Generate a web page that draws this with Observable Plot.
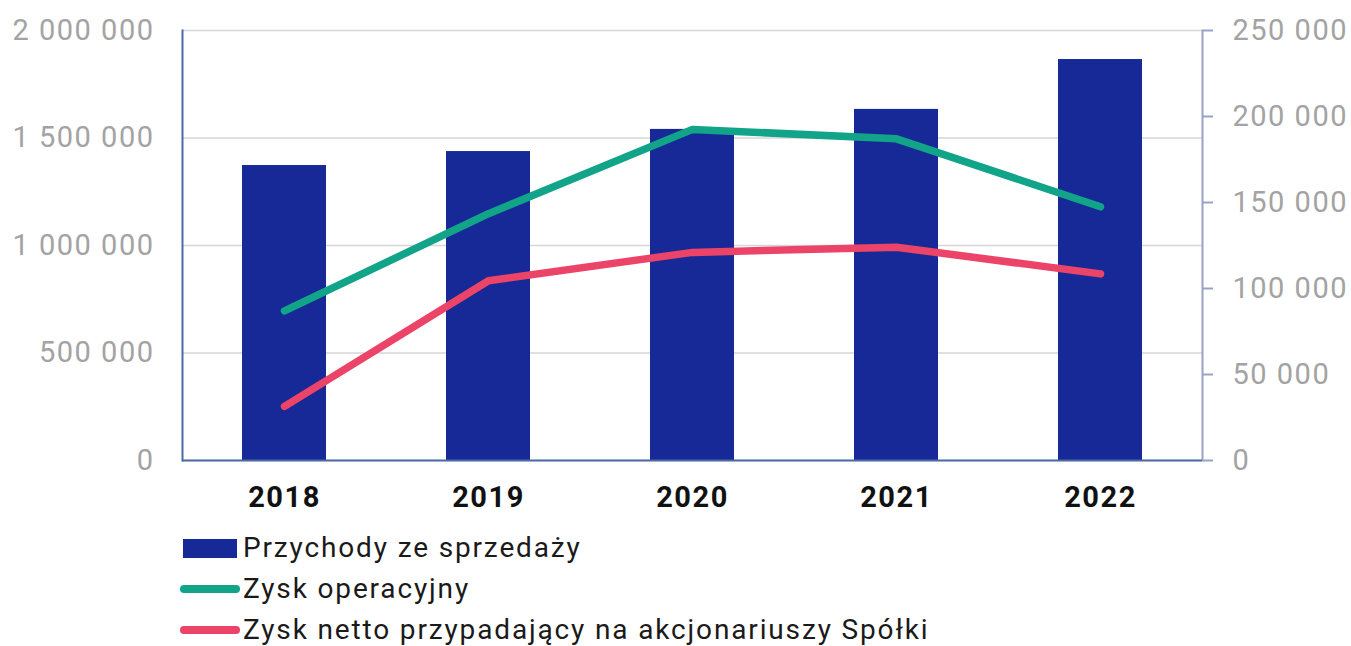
<!DOCTYPE html>
<html>
<head>
<meta charset="utf-8">
<script src="https://cdn.jsdelivr.net/npm/d3@7"></script>
<script src="https://cdn.jsdelivr.net/npm/@observablehq/plot@0.6"></script>
<style>
  html, body { margin: 0; padding: 0; background: #fff; }
  body { width: 1351px; height: 646px; overflow: hidden; font-family: Roboto, sans-serif; }
  #chart svg text { letter-spacing: 1.5px; }
  #legend { position: absolute; left: 180px; top: 527px; font-size: 28px; letter-spacing: 1.85px; color: #1a1a1a; line-height: 41px; }
  .row { display: flex; align-items: center; height: 41px; }
  .row svg { display: block; margin-right: 3px; }
</style>
</head>
<body>
<div id="chart"></div>
<div id="legend"></div>
<script>
const years = ["2018", "2019", "2020", "2021", "2022"];
const revenue = [1372000, 1437000, 1540000, 1633000, 1865000];
const operatingProfit = [87000, 143500, 192500, 187000, 147500];
const netProfit = [31500, 104500, 121000, 124000, 108500];
const leftTicks = [0, 500000, 1000000, 1500000, 2000000];
const rightTicks = [0, 50000, 100000, 150000, 200000, 250000];
const seriesNames = ["Przychody ze sprzedaży", "Zysk operacyjny", "Zysk netto przypadający na akcjonariuszy Spółki"];
const colors = ["#172996", "#11a489", "#ec4468"];

const ratio = 2000000 / 250000;
const fmt = d3.formatLocale({decimal: ",", thousands: " ", grouping: [3], currency: ["", ""]}).format(",");

const bars = years.map((y, i) => ({year: y, value: revenue[i]}));
const op = years.map((y, i) => ({year: y, value: operatingProfit[i] * ratio}));
const net = years.map((y, i) => ({year: y, value: netProfit[i] * ratio}));

const chart = Plot.plot({
  width: 1351,
  height: 520,
  marginTop: 30,
  marginBottom: 60,
  marginLeft: 182,
  marginRight: 149,
  style: {fontFamily: "Roboto, sans-serif", background: "#fff"},
  x: {domain: years, paddingInner: 0.588, paddingOuter: 0.294},
  y: {domain: [0, 2000000]},
  marks: [
    Plot.gridY(leftTicks, {stroke: "#d6d6d6", strokeOpacity: 1, strokeWidth: 1.5}),
    Plot.barY(bars, {x: "year", y: "value", fill: colors[0]}),
    Plot.frame({anchor: "left", stroke: "#4d6aa8", strokeWidth: 2}),
    Plot.frame({anchor: "right", stroke: "#98a2c6", strokeWidth: 2}),
    Plot.ruleY([0], {stroke: "#4d6aa8", strokeWidth: 2}),
    Plot.line(op, {x: "year", y: "value", stroke: colors[1], strokeWidth: 7.5, strokeLinecap: "round", strokeLinejoin: "round"}),
    Plot.line(net, {x: "year", y: "value", stroke: colors[2], strokeWidth: 7.5, strokeLinecap: "round", strokeLinejoin: "round"}),
    Plot.axisY({ticks: leftTicks, tickFormat: fmt, tickSize: 0, tickPadding: 28, fontSize: 29, fill: "#a3a3a3", label: null}),
    Plot.axisY({anchor: "right", ticks: rightTicks.map(d => d * ratio), tickFormat: d => fmt(d / ratio), tickSize: 10, tickPadding: 20, stroke: "#98a2c6", strokeWidth: 2, fontSize: 29, fill: "#a3a3a3", label: null}),
    Plot.axisX({tickSize: 0, tickPadding: 26, fontSize: 29, fontWeight: "bold", fill: "#111", label: null})
  ]
});
document.getElementById("chart").append(chart);

const legend = document.getElementById("legend");
seriesNames.forEach((name, i) => {
  const row = document.createElement("div");
  row.className = "row";
  const swatch = i === 0
    ? `<svg width="60" height="20"><rect x="3" y="1" width="54" height="19" fill="${colors[0]}"/></svg>`
    : `<svg width="60" height="20"><line x1="4" y1="10" x2="56" y2="10" stroke="${colors[i]}" stroke-width="8" stroke-linecap="round"/></svg>`;
  row.innerHTML = swatch + `<span>${name}</span>`;
  legend.append(row);
});
</script>
</body>
</html>
